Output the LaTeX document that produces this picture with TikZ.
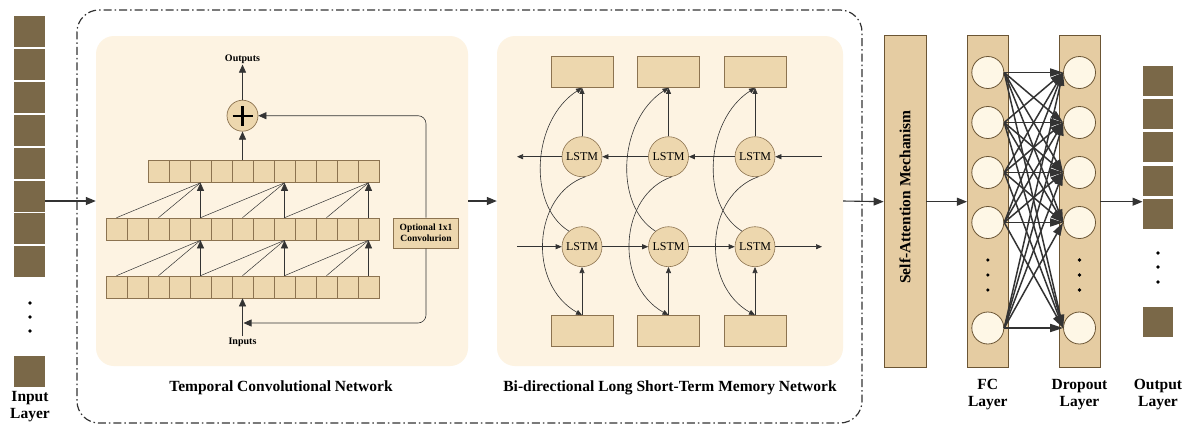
\documentclass[tikz,border=0pt]{standalone}
\usepackage{fontspec}
\setmainfont{Liberation Serif}
\usetikzlibrary{arrows.meta,calc}
\definecolor{panel}{HTML}{FDF3E2}
\definecolor{cellfill}{HTML}{EDD7AE}
\definecolor{cellline}{HTML}{8C7350}
\definecolor{darksq}{HTML}{7A6848}
\definecolor{layerfill}{HTML}{E5CCA2}
\definecolor{circfill}{HTML}{FEF7E6}
\definecolor{circline}{HTML}{6B5534}
\definecolor{arrowc}{HTML}{333333}
\begin{document}
\begin{tikzpicture}[x=1pt,y=-1pt,
  cell/.style={draw=cellline, fill=cellfill, line width=0.6pt, minimum width=21pt, minimum height=22pt, inner sep=0pt},
  panelbox/.style={fill=panel, draw=none, rounded corners=18pt, inner sep=0pt},
  dsq/.style={fill=darksq, draw=none, minimum width=31pt, minimum height=31pt, inner sep=0pt},
  thinln/.style={draw=arrowc, line width=0.5pt},
  tarr/.style={draw=arrowc, line width=0.6pt, -{Triangle[length=8pt,width=7pt]}},
  sarr/.style={draw=arrowc, line width=0.6pt, -{Triangle[length=6pt,width=5pt]}},
  marr/.style={draw=arrowc, line width=1.1pt, -{Triangle[length=10pt,width=8pt]}},
  farr/.style={draw=arrowc, line width=1.5pt, -{Triangle[length=13pt,width=8pt]}},
  lbl/.style={font=\bfseries\fontsize{10}{11}\selectfont, inner sep=1pt, align=center},
  big/.style={font=\bfseries\fontsize{15.5}{16.5}\selectfont, inner sep=0pt, align=center},
  bbox/.style={draw=cellline, fill=cellfill, line width=0.6pt, minimum width=62pt, minimum height=31pt, inner sep=0pt},
  lstm/.style={circle, draw=cellline, fill=cellfill, line width=0.6pt, minimum size=40pt, inner sep=0pt, font=\fontsize{12}{12}\selectfont},
  lay/.style={draw=circline, fill=layerfill, line width=0.7pt, minimum width=41pt, minimum height=332pt, inner sep=0pt},
  neu/.style={circle, draw=circline, fill=circfill, line width=0.8pt, minimum size=32pt, inner sep=0pt}
]
\useasboundingbox (0,0) rectangle (1190,437);
\fill[white] (0,0) rectangle (1190,437);

% panels
\node[panelbox, minimum width=372pt, minimum height=330pt] (tcn) at (282,201) {};
\node[panelbox, minimum width=346pt, minimum height=330pt] (bil) at (670,201) {};
\node[draw=arrowc, line width=1.2pt, dash pattern=on 8pt off 3pt on 1.5pt off 3pt, rounded corners=22pt, minimum width=785pt, minimum height=413pt, inner sep=0pt] (frame) at (469.5,216.5) {};

% input layer
\foreach \k in {0,...,7} \node[dsq] (in\k) at (29.5,{31.5+32.9*\k}) {};
\node[dsq] (inL) at (29.5,371.5) {};
\foreach \yy in {303,317,331} \fill[black] (30,\yy) circle (1.8pt);
\node[big] (lin) at (30,406.5) {Input\\Layer};

% TCN
\foreach \i in {0,...,12} {
  \node[cell] (b\i) at ({116.5+21*\i},287) {};
  \node[cell] (m\i) at ({116.5+21*\i},229) {};
}
\foreach \i in {2,...,12} \node[cell] (t\i) at ({116.5+21*\i},171.5) {};
\foreach \j in {4,8,12} {
  \pgfmathtruncatemacro\ja{\j-4}
  \pgfmathtruncatemacro\jb{\j-2}
  \draw[thinln] (b\ja.north) -- (m\j.south);
  \draw[thinln] (b\jb.north) -- (m\j.south);
  \draw[tarr] (b\j.north) -- (m\j.south);
  \draw[thinln] (m\ja.north) -- (t\j.south);
  \draw[thinln] (m\jb.north) -- (t\j.south);
  \draw[tarr] (m\j.north) -- (t\j.south);
}
\node[circle, draw=cellline, fill=cellfill, line width=0.7pt, minimum size=31pt, inner sep=0pt] (plus) at (242.5,115.7) {};
\draw[line width=2.2pt] ([xshift=-10pt]plus.center) -- ([xshift=10pt]plus.center);
\draw[line width=2.2pt] ([yshift=-10pt]plus.center) -- ([yshift=10pt]plus.center);
\node[lbl] (outs) at (242.5,59) {Outputs};
\node[lbl] (ins) at (242.5,342) {Inputs};
\draw[tarr] (plus.north) -- (outs.south);
\draw[tarr] (t6.north) -- (plus.south);
\draw[tarr] (ins.north) -- (b6.south);
\node[cell, minimum width=65pt, minimum height=30pt, align=center, font=\bfseries\fontsize{9.5}{11}\selectfont] (opt) at (426,233) {Optional 1x1\\Convolurion};
\draw[tarr, rounded corners=8pt] (opt.north) |- (plus.east);
\coordinate (fb) at (243.5,323);
\draw[tarr, rounded corners=8pt] (opt.south) |- (fb);
\node[big] (ttcn) at (281,388) {Temporal Convolutional Network};

% main arrows
\draw[marr] (in5.east |- tcn.west) -- (tcn.west);
\draw[marr] (tcn.east) -- (bil.west);

% BiLSTM
\foreach \n/\x in {1/582,2/668.5,3/755} {
  \node[bbox] (ot\n) at (\x,72) {};
  \node[bbox] (ib\n) at (\x,331) {};
  \node[lstm] (lt\n) at (\x,156.7) {LSTM};
  \node[lstm] (lb\n) at (\x,246.7) {LSTM};
}
\coordinate (tr) at (822,156.7);
\coordinate (tl) at (517,156.7);
\coordinate (bl) at (517,246.7);
\coordinate (br) at (822,246.7);
\draw[sarr] (tr) -- (lt3);
\draw[sarr] (lt3) -- (lt2);
\draw[sarr] (lt2) -- (lt1);
\draw[sarr] (lt1) -- (tl);
\draw[sarr] (bl) -- (lb1);
\draw[sarr] (lb1) -- (lb2);
\draw[sarr] (lb2) -- (lb3);
\draw[sarr] (lb3) -- (br);
\foreach \n in {1,2,3} {
  \draw[sarr] (lt\n) -- (ot\n);
  \draw[sarr] (ib\n) -- (lb\n);
  \draw[sarr] (lb\n.130) .. controls +(-42,-26) and +(-50,32) .. (ot\n.south);
  \draw[sarr] (lt\n.280) .. controls +(-53,18) and +(-55,-31) .. (ib\n.north);
}
\node[big] (tbil) at (670,388) {Bi-directional Long Short-Term Memory Network};

% right part
\node[lay, minimum width=42pt] (sa) at (905,201.7) {};
\node[big, rotate=90] (satext) at (905,197) {Self-Attention Mechanism};
\node[lay] (fc) at (987.8,201.7) {};
\node[lay] (dp) at (1079.5,201.7) {};
\draw[marr] (bil.east) -- (sa.west);
\draw[marr] (sa.east) -- (fc.west);
\foreach \k/\yy in {1/72.5,2/122.5,3/172.5,4/222.5,5/328} {
  \node[neu] (f\k) at (987.8,\yy) {};
  \node[neu] (d\k) at (1079.5,\yy) {};
}
\foreach \yy in {260,275,290} {
  \fill[black] (987.8,\yy) circle (1.8pt);
  \fill[black] (1079.5,\yy) circle (1.8pt);
}
\foreach \a in {1,...,5} \foreach \b in {1,...,5} \draw[farr] (f\a.east) -- (d\b.west);
\foreach \k in {0,...,4} \node[dsq, minimum width=30.6pt, minimum height=30pt] (o\k) at (1158,{80.7+33.3*\k}) {};
\node[dsq, minimum width=30.6pt, minimum height=30pt] (oL) at (1158,321.7) {};
\foreach \yy in {253,267,282} \fill[black] (1158,\yy) circle (1.8pt);
\draw[marr] (dp.east) -- (dp.east -| o4.west);
\node[big] (lfc) at (987.8,394.5) {FC\\Layer};
\node[big] (ldp) at (1079.5,394.5) {Dropout\\Layer};
\node[big] (lout) at (1158,394.5) {Output\\Layer};
\end{tikzpicture}
\end{document}
